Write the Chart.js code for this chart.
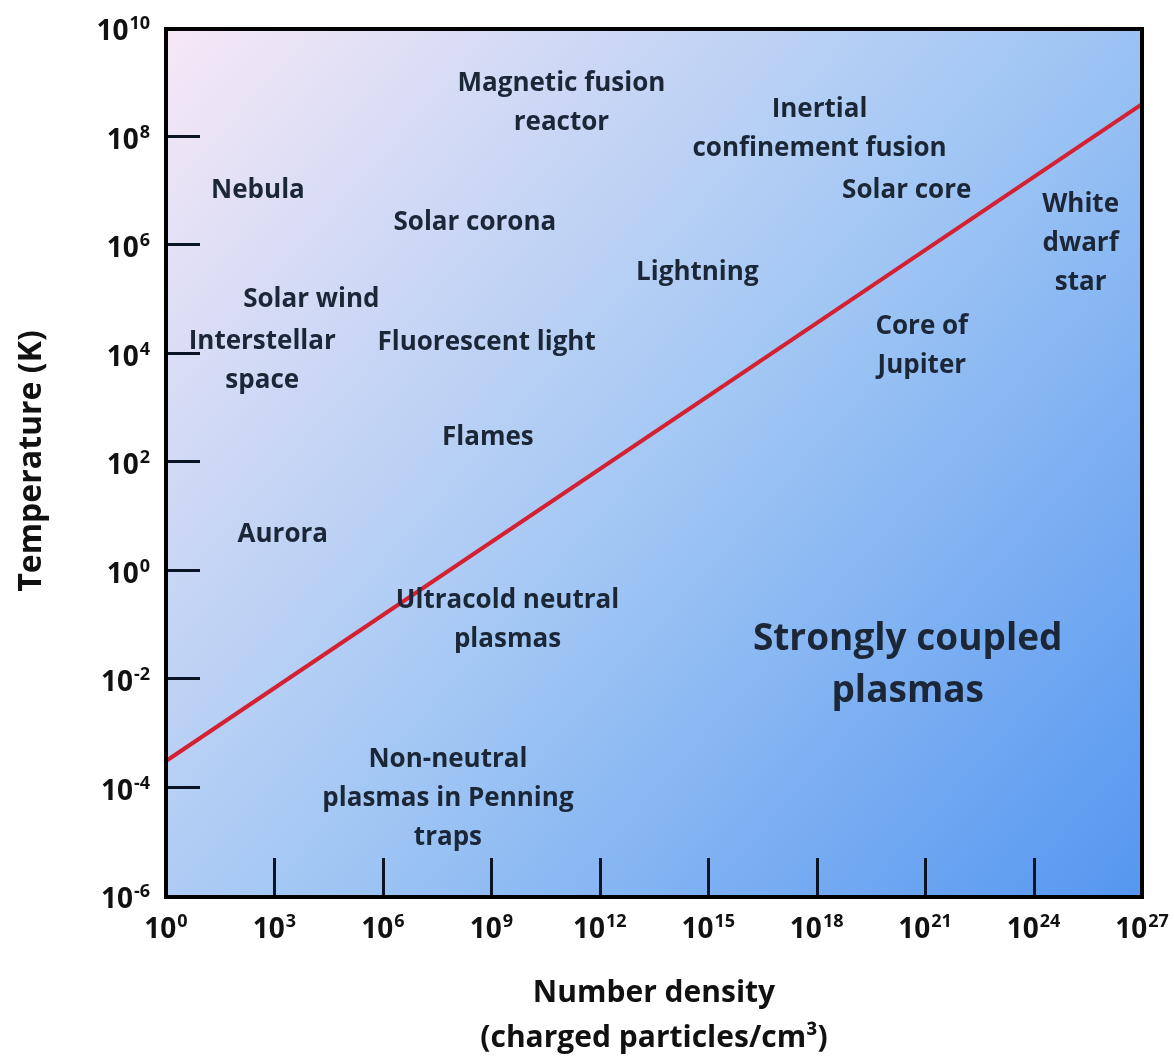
<!DOCTYPE html>
<html>
<head>
<meta charset="utf-8">
<script src="https://cdn.jsdelivr.net/npm/chart.js@4.4.0/dist/chart.umd.min.js"></script>
<style>
html, body { margin: 0; padding: 0; background: #fff; }
</style>
</head>
<body>
<canvas id="chart" width="1174" height="1061"></canvas>
<script>
// axis ticks, as powers of ten
var densityExp = [0, 3, 6, 9, 12, 15, 18, 21, 24, 27];
var tempExp = [10, 8, 6, 4, 2, 0, -2, -4, -6];

// boundary line (red)
var lineDensity = [1, 1e27];
var lineTemp = [2.95e-4, 3.8e8];

// region labels
var regionNames = [
  'Magnetic fusion\nreactor',
  'Inertial\nconfinement fusion',
  'Nebula',
  'Solar core',
  'White\ndwarf\nstar',
  'Solar corona',
  'Lightning',
  'Solar wind',
  'Interstellar\nspace',
  'Fluorescent light',
  'Core of\nJupiter',
  'Flames',
  'Aurora',
  'Ultracold neutral\nplasmas',
  'Non-neutral\nplasmas in Penning\ntraps'
];
var regionDensity = [8.7e10, 1.2e18, 350, 3.1e20, 2e25, 3.5e8, 5e14, 1.05e4, 460, 7.4e8, 8.1e20, 8e8, 1.7e3, 2.8e9, 6.3e7];
var regionTemp = [4.0e8, 1.3e8, 9.8e6, 9.8e6, 1.0e6, 2.5e6, 3.0e5, 9.5e4, 6.9e3, 1.55e4, 1.3e4, 270, 4.4, 0.115, 5.9e-5];

var bigName = 'Strongly coupled\nplasmas';
var bigDensity = 3.3e20;
var bigTemp = 0.017;

var FONT = "'Open Sans', Lato, sans-serif";

function drawPow(ctx, exp, x, baseline, align) {
  var base = '10', sup = String(exp);
  ctx.font = 'bold 28px ' + FONT;
  var wb = ctx.measureText(base).width;
  ctx.font = 'bold 18px ' + FONT;
  var ws = ctx.measureText(sup).width;
  var start = align === 'right' ? x - wb - ws - 1 : x - (wb + ws + 1) / 2;
  ctx.textAlign = 'left';
  ctx.textBaseline = 'alphabetic';
  ctx.fillStyle = '#111';
  ctx.font = 'bold 28px ' + FONT;
  ctx.fillText(base, start, baseline);
  ctx.font = 'bold 18px ' + FONT;
  ctx.fillText(sup, start + wb + 1, baseline - 11);
}

function drawLines(ctx, text, x, y, lh) {
  var lines = text.split('\n');
  var y0 = y - (lines.length - 1) * lh / 2;
  lines.forEach(function(l, i) { ctx.fillText(l, x, y0 + i * lh); });
}

var framePlugin = {
  id: 'frame',
  beforeDatasetsDraw: function(chart) {
    var ctx = chart.ctx, a = chart.chartArea;
    var g = ctx.createLinearGradient(a.left, a.top, a.right, a.bottom);
    g.addColorStop(0, '#f7e8f6');
    g.addColorStop(0.5, '#a4c8f4');
    g.addColorStop(1, '#5597f0');
    ctx.save();
    ctx.fillStyle = g;
    ctx.fillRect(a.left, a.top, a.right - a.left, a.bottom - a.top);
    ctx.restore();
  },
  afterDatasetsDraw: function(chart) {
    var ctx = chart.ctx, a = chart.chartArea;
    var xs = chart.scales.x, ys = chart.scales.y;
    ctx.save();

    // region labels
    ctx.fillStyle = '#1b2636';
    ctx.textAlign = 'center';
    ctx.textBaseline = 'middle';
    ctx.font = 'bold 26px ' + FONT;
    regionNames.forEach(function(n, i) {
      drawLines(ctx, n, xs.getPixelForValue(regionDensity[i]), ys.getPixelForValue(regionTemp[i]), 39);
    });
    ctx.font = 'bold 37px ' + FONT;
    drawLines(ctx, bigName, xs.getPixelForValue(bigDensity), ys.getPixelForValue(bigTemp), 52);

    // inner tick marks
    ctx.strokeStyle = '#0b1424';
    ctx.lineWidth = 3;
    ctx.beginPath();
    tempExp.forEach(function(e) {
      if (e === 10 || e === -6) return;
      var y = Math.round(ys.getPixelForValue(Math.pow(10, e))) + 0.5;
      ctx.moveTo(a.left, y); ctx.lineTo(a.left + 34, y);
    });
    densityExp.forEach(function(e) {
      if (e === 0 || e === 27) return;
      var x = Math.round(xs.getPixelForValue(Math.pow(10, e))) + 0.5;
      ctx.moveTo(x, a.bottom); ctx.lineTo(x, a.bottom - 37);
    });
    ctx.stroke();

    // frame
    ctx.strokeStyle = '#000';
    ctx.lineWidth = 4;
    ctx.strokeRect(a.left, a.top + 2, a.right - a.left, a.bottom - a.top);

    // tick labels
    tempExp.forEach(function(e) {
      drawPow(ctx, e, 150, ys.getPixelForValue(Math.pow(10, e)) + 13, 'right');
    });
    densityExp.forEach(function(e) {
      drawPow(ctx, e, xs.getPixelForValue(Math.pow(10, e)), a.bottom + 43, 'center');
    });
    ctx.restore();
  }
};

var points = lineDensity.map(function(d, i) { return { x: d, y: lineTemp[i] }; });

new Chart(document.getElementById('chart').getContext('2d'), {
  type: 'scatter',
  data: {
    datasets: [{
      data: points,
      showLine: true,
      borderColor: '#d42030',
      borderWidth: 4,
      pointRadius: 0,
      fill: false
    }]
  },
  options: {
    responsive: false,
    animation: false,
    layout: { padding: { left: 13, top: 27, right: 32, bottom: 0 } },
    plugins: { legend: { display: false }, tooltip: { enabled: false } },
    scales: {
      x: {
        type: 'logarithmic',
        min: 1,
        max: 1e27,
        ticks: { display: false },
        grid: { display: false, drawTicks: false, tickLength: 0 },
        border: { display: false },
        title: {
          display: true,
          text: ['Number density', '(charged particles/cm³)'],
          color: '#111',
          font: { family: FONT, size: 30, weight: 'bold', lineHeight: 1.5 },
          padding: { top: 76, bottom: 0 }
        }
      },
      y: {
        type: 'logarithmic',
        min: 1e-6,
        max: 1e10,
        ticks: { display: false },
        grid: { display: false, drawTicks: false, tickLength: 0 },
        border: { display: false },
        title: {
          display: true,
          text: 'Temperature (K)',
          color: '#111',
          font: { family: FONT, size: 32, weight: 'bold', lineHeight: 1.2 },
          padding: { top: 0, bottom: 114.6 }
        }
      }
    }
  },
  plugins: [framePlugin]
});
</script>
</body>
</html>
